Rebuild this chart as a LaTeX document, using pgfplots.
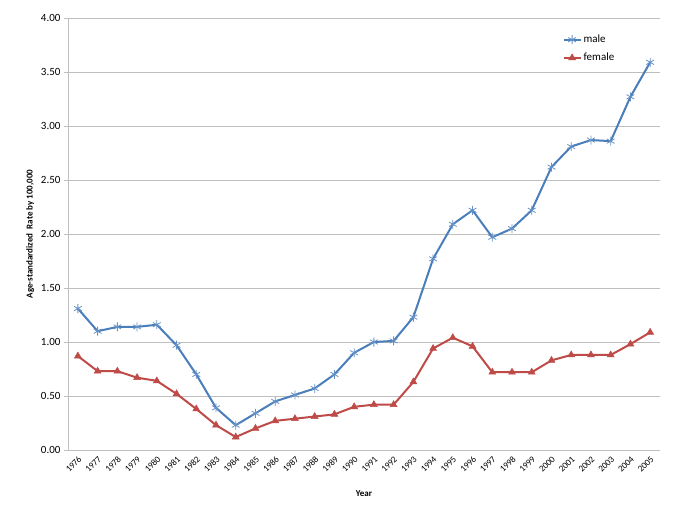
\documentclass[border=0pt]{standalone}
\usepackage{fontspec}
\setmainfont{Carlito}
\usepackage{pgfplots}
\pgfplotsset{compat=1.18}
\definecolor{maleblue}{HTML}{4A7EBB}
\definecolor{femalered}{HTML}{BE4B48}
\definecolor{gridgray}{HTML}{BFBFBF}

\begin{document}
\begin{tikzpicture}
\begin{axis}[
    scale only axis,
    width=592pt, height=432pt,
    xmin=1975.5, xmax=2005.5,
    ymin=0, ymax=4,
    xtick={1976,...,2005},
    xticklabel style={rotate=45, anchor=north east, font=\fontsize{9}{10}\selectfont, inner sep=1pt},
    /pgf/number format/1000 sep={},
    ytick={0,0.5,...,4},
    yticklabel={\pgfmathprintnumber[fixed,fixed zerofill,precision=2]{\tick}},
    yticklabel style={font=\fontsize{11}{13}\selectfont},
    /pgf/number format/assume math mode=true,
    ymajorgrids,
    grid style={gridgray, line width=0.8pt},
    axis x line*=bottom,
    axis y line*=left,
    axis line style={gridgray, line width=0.8pt, -},
    tick style={gridgray, line width=0.8pt},
    tick align=outside,
    major tick length=4pt,
    xtick style={draw=none},
    xlabel={\textbf{Year}},
    xlabel style={font=\fontsize{9}{10}\selectfont, at={(rel axis cs:0.5,-0.1)}, anchor=center},
    ylabel={\textbf{Age-standardized\ \ Rate by 100,000}},
    ylabel style={font=\fontsize{9}{10}\selectfont, at={(rel axis cs:-0.064,0.5)}, anchor=center},
    legend style={draw=none, fill=none, at={(rel axis cs:0.83,0.97)}, anchor=north west,
        font=\fontsize{11}{13}\selectfont, row sep=5pt},
    legend cell align=left,
    clip=false,
]
\path[use as bounding box] (rel axis cs:-0.1149,-0.1458) rectangle (rel axis cs:1.0422,1.0417);

\addplot[maleblue, line width=2pt, mark=asterisk, mark size=4.5pt, mark options={line width=0.8pt, maleblue!85!white}] coordinates {
(1976,1.31) (1977,1.10) (1978,1.14) (1979,1.14) (1980,1.16)
(1981,0.97) (1982,0.70) (1983,0.39) (1984,0.23) (1985,0.34)
(1986,0.45) (1987,0.51) (1988,0.57) (1989,0.70) (1990,0.90)
(1991,1.00) (1992,1.01) (1993,1.23) (1994,1.77) (1995,2.09)
(1996,2.22) (1997,1.97) (1998,2.05) (1999,2.22) (2000,2.62)
(2001,2.81) (2002,2.87) (2003,2.86) (2004,3.27) (2005,3.59)
};
\addlegendentry{male}

\addplot[femalered, line width=2pt, mark=triangle*, mark size=4pt, mark options={line width=0.5pt}] coordinates {
(1976,0.87) (1977,0.73) (1978,0.73) (1979,0.67) (1980,0.64)
(1981,0.52) (1982,0.38) (1983,0.23) (1984,0.12) (1985,0.20)
(1986,0.27) (1987,0.29) (1988,0.31) (1989,0.33) (1990,0.40)
(1991,0.42) (1992,0.42) (1993,0.63) (1994,0.94) (1995,1.04)
(1996,0.96) (1997,0.72) (1998,0.72) (1999,0.72) (2000,0.83)
(2001,0.88) (2002,0.88) (2003,0.88) (2004,0.98) (2005,1.09)
};
\addlegendentry{female}
\end{axis}
\end{tikzpicture}
\end{document}
